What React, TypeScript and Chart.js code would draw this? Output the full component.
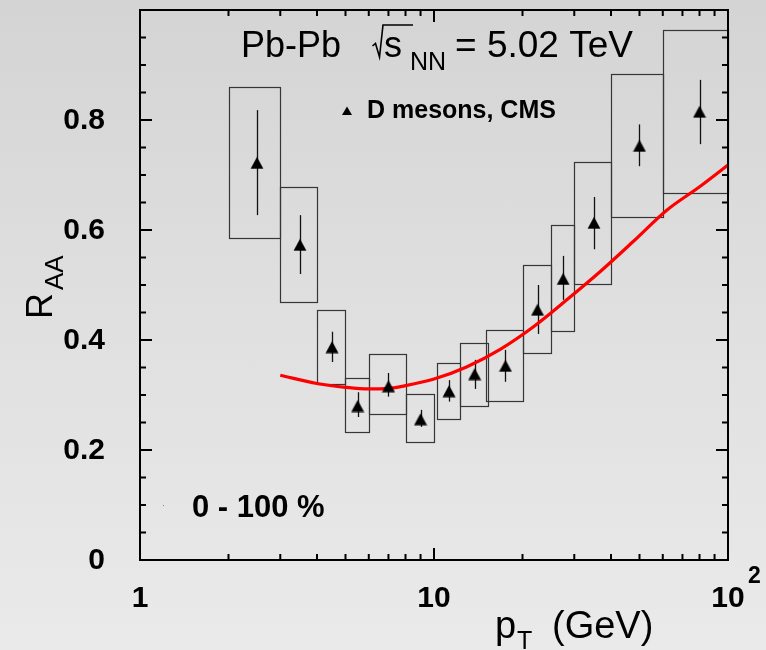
import React, { useEffect, useRef } from "react";
import { Chart, registerables } from "chart.js";

Chart.register(...registerables);

// ---------- data ----------
const ptCenter = [2.5, 3.5, 4.5, 5.5, 7, 9, 11.25, 13.75, 17.5, 22.5, 27.5, 35, 50, 80];
const raa = [0.722, 0.573, 0.387, 0.28, 0.316, 0.256, 0.307, 0.338, 0.353, 0.455, 0.511, 0.613, 0.753, 0.815];
const statLow = [0.627, 0.52, 0.36, 0.26, 0.297, 0.242, 0.288, 0.311, 0.324, 0.411, 0.473, 0.565, 0.716, 0.756];
const statHigh = [0.818, 0.627, 0.415, 0.305, 0.34, 0.273, 0.327, 0.364, 0.382, 0.5, 0.553, 0.66, 0.792, 0.873];
const boxPtLow = [2, 3, 4, 5, 6, 8, 10.25, 12.3, 15.05, 20, 25, 30, 40, 60];
const boxPtHigh = [3, 4, 5, 6, 8, 10, 12.3, 15.3, 20.1, 25, 30, 40, 60, 100];
const sysLow = [0.586, 0.469, 0.32, 0.233, 0.265, 0.2145, 0.256, 0.28, 0.289, 0.376, 0.416, 0.501, 0.624, 0.667];
const sysHigh = [0.86, 0.679, 0.455, 0.33, 0.374, 0.301, 0.359, 0.395, 0.418, 0.536, 0.609, 0.724, 0.883, 0.964];

const curvePt = [3, 4, 5, 6, 7, 8, 10, 12.9, 16.8, 21.8, 28.3, 36.7, 47.6, 61.9, 80.3, 100];
const curveRaa = [0.336, 0.321, 0.314, 0.311, 0.312, 0.317, 0.329, 0.351, 0.383, 0.424, 0.473, 0.524, 0.579, 0.636, 0.679, 0.718];

const yTickValues = [0, 0.2, 0.4, 0.6, 0.8];
const yTickLabels = ["0", "0.2", "0.4", "0.6", "0.8"];
const xTickValues = [1, 10, 100];
const xTickLabels = ["1", "10", "10"];
const xTickExponents = ["", "", "2"];

const FONT = '"Liberation Sans", Arial, Helvetica, sans-serif';

function makeTriangle(w: number, h: number): HTMLCanvasElement {
  const c = document.createElement("canvas");
  c.width = w + 1;
  c.height = h + 1;
  const g = c.getContext("2d")!;
  g.fillStyle = "#000";
  g.beginPath();
  g.moveTo(0.5, h + 0.5);
  g.lineTo(w + 0.5, h + 0.5);
  g.lineTo((w + 1) / 2, 0.5);
  g.closePath();
  g.fill();
  return c;
}

const rootPlugin = {
  id: "rootStyle",
  beforeDatasetsDraw(chart: any) {
    const ctx = chart.ctx as CanvasRenderingContext2D;
    const xs = chart.scales.x;
    const ys = chart.scales.y;
    ctx.save();
    // systematic boxes
    ctx.strokeStyle = "#363636";
    ctx.lineWidth = 1.2;
    for (let i = 0; i < boxPtLow.length; i++) {
      const x1 = Math.round(xs.getPixelForValue(boxPtLow[i])) + 0.5;
      const x2 = Math.round(xs.getPixelForValue(boxPtHigh[i])) + 0.5;
      const y1 = Math.round(ys.getPixelForValue(sysHigh[i])) + 0.5;
      const y2 = Math.round(ys.getPixelForValue(sysLow[i])) + 0.5;
      ctx.strokeRect(x1, y1, x2 - x1, y2 - y1);
    }
    // statistical error bars
    ctx.strokeStyle = "#111";
    ctx.lineWidth = 1.3;
    for (let i = 0; i < ptCenter.length; i++) {
      const x = Math.round(xs.getPixelForValue(ptCenter[i])) + 0.5;
      ctx.beginPath();
      ctx.moveTo(x, ys.getPixelForValue(statHigh[i]));
      ctx.lineTo(x, ys.getPixelForValue(statLow[i]));
      ctx.stroke();
    }
    ctx.restore();
  },
  afterDraw(chart: any) {
    const ctx = chart.ctx as CanvasRenderingContext2D;
    const xs = chart.scales.x;
    const ys = chart.scales.y;
    const { left, right, top, bottom } = chart.chartArea;
    ctx.save();
    ctx.strokeStyle = "#000";
    ctx.fillStyle = "#000";
    ctx.lineWidth = 2;

    // y ticks (left and right, inward)
    for (let k = 1; k < 20; k++) {
      const v = k * 0.05;
      const y = ys.getPixelForValue(v);
      const major = k % 4 === 0;
      const len = major ? 12 : 6;
      ctx.beginPath();
      ctx.moveTo(left, y);
      ctx.lineTo(left + len, y);
      ctx.moveTo(right, y);
      ctx.lineTo(right - len, y);
      ctx.stroke();
    }
    // x ticks (bottom and top, inward)
    for (const d of [1, 10]) {
      for (let k = 1; k <= 9; k++) {
        const v = k * d;
        if (v === 1) continue;
        const x = xs.getPixelForValue(v);
        const major = k === 1;
        const len = major ? 12 : 6;
        ctx.beginPath();
        ctx.moveTo(x, bottom);
        ctx.lineTo(x, bottom - len);
        ctx.moveTo(x, top);
        ctx.lineTo(x, top + len);
        ctx.stroke();
      }
    }
    // frame
    ctx.strokeRect(left, top, right - left, bottom - top);

    // y tick labels
    ctx.font = `bold 30px ${FONT}`;
    ctx.textAlign = "right";
    ctx.textBaseline = "middle";
    yTickValues.forEach((v, i) => {
      ctx.fillText(yTickLabels[i], 105, ys.getPixelForValue(v) + 1);
    });
    // x tick labels
    xTickValues.forEach((v, i) => {
      const x = xs.getPixelForValue(v);
      ctx.font = `bold 30px ${FONT}`;
      ctx.textAlign = "center";
      ctx.textBaseline = "alphabetic";
      ctx.fillText(xTickLabels[i], x, 607);
      if (xTickExponents[i]) {
        ctx.font = `bold 23px ${FONT}`;
        ctx.textAlign = "left";
        ctx.fillText(xTickExponents[i], x + 20, 583);
      }
    });

    // x axis title
    ctx.textAlign = "left";
    ctx.textBaseline = "alphabetic";
    ctx.font = `38px ${FONT}`;
    ctx.fillText("p", 495, 638);
    ctx.font = `25px ${FONT}`;
    ctx.fillText("T", 517, 649);
    ctx.font = `38px ${FONT}`;
    ctx.fillText("(GeV)", 552, 638);

    // y axis title (rotated)
    ctx.save();
    ctx.translate(52, 319);
    ctx.rotate(-Math.PI / 2);
    ctx.font = `36px ${FONT}`;
    ctx.fillText("R", 0, 0);
    ctx.font = `26px ${FONT}`;
    ctx.fillText("AA", 29, 11);
    ctx.restore();

    // title
    ctx.font = `36px ${FONT}`;
    ctx.fillText("Pb-Pb", 241, 57);
    ctx.lineWidth = 1.6;
    ctx.beginPath();
    ctx.moveTo(372.5, 46);
    ctx.lineTo(375.5, 43.5);
    ctx.lineTo(379.5, 57);
    ctx.lineTo(383, 25);
    ctx.lineTo(413, 25);
    ctx.stroke();
    ctx.fillText("s", 384, 57);
    ctx.font = `25px ${FONT}`;
    ctx.fillText("NN", 410, 70);
    ctx.font = `37px ${FONT}`;
    ctx.fillText("= 5.02 TeV", 455, 57);

    // legend
    ctx.beginPath();
    ctx.moveTo(342, 115);
    ctx.lineTo(352, 115);
    ctx.lineTo(347, 106.5);
    ctx.closePath();
    ctx.fill();
    ctx.font = `bold 25px ${FONT}`;
    ctx.fillText("D mesons, CMS", 367, 118);

    // centrality label
    ctx.fillStyle = "#888";
    ctx.fillRect(163, 505, 1, 1);
    ctx.fillStyle = "#000";
    ctx.font = `bold 31px ${FONT}`;
    ctx.fillText("0 - 100 %", 192, 517);

    ctx.restore();
  },
};

export default function App() {
  const canvasRef = useRef<HTMLCanvasElement | null>(null);

  useEffect(() => {
    if (!canvasRef.current) return;
    const tri = makeTriangle(13, 12);
    const chart = new Chart(canvasRef.current, {
      type: "scatter",
      data: {
        datasets: [
          {
            label: "D mesons, CMS",
            data: ptCenter.map((x, i) => ({ x, y: raa[i] })),
            pointStyle: tri as any,
            pointRadius: 7,
            showLine: false,
            backgroundColor: "#000",
            borderColor: "#000",
          },
          {
            type: "line" as any,
            label: "model",
            data: curvePt.map((x, i) => ({ x, y: curveRaa[i] })),
            borderColor: "#ff0000",
            borderWidth: 3.2,
            pointRadius: 0,
            showLine: true,
            fill: false,
            cubicInterpolationMode: "monotone",
          } as any,
        ],
      },
      options: {
        animation: false,
        responsive: false,
        devicePixelRatio: 1,
        events: [],
        layout: { padding: { left: 140, right: 38, top: 10, bottom: 90 } },
        plugins: { legend: { display: false }, tooltip: { enabled: false } },
        scales: {
          x: { type: "logarithmic", min: 1, max: 100, display: false },
          y: { type: "linear", min: 0, max: 1, display: false },
        },
      },
      plugins: [rootPlugin],
    });
    return () => chart.destroy();
  }, []);

  return (
    <div
      style={{
        position: "absolute",
        left: 0,
        top: 0,
        width: 766,
        height: 650,
        background: "linear-gradient(to bottom, #d4d4d4 0%, #e0e0e0 50%, #eaeaea 100%)",
      }}
    >
      <canvas ref={canvasRef} width={766} height={650} style={{ display: "block" }} />
    </div>
  );
}
